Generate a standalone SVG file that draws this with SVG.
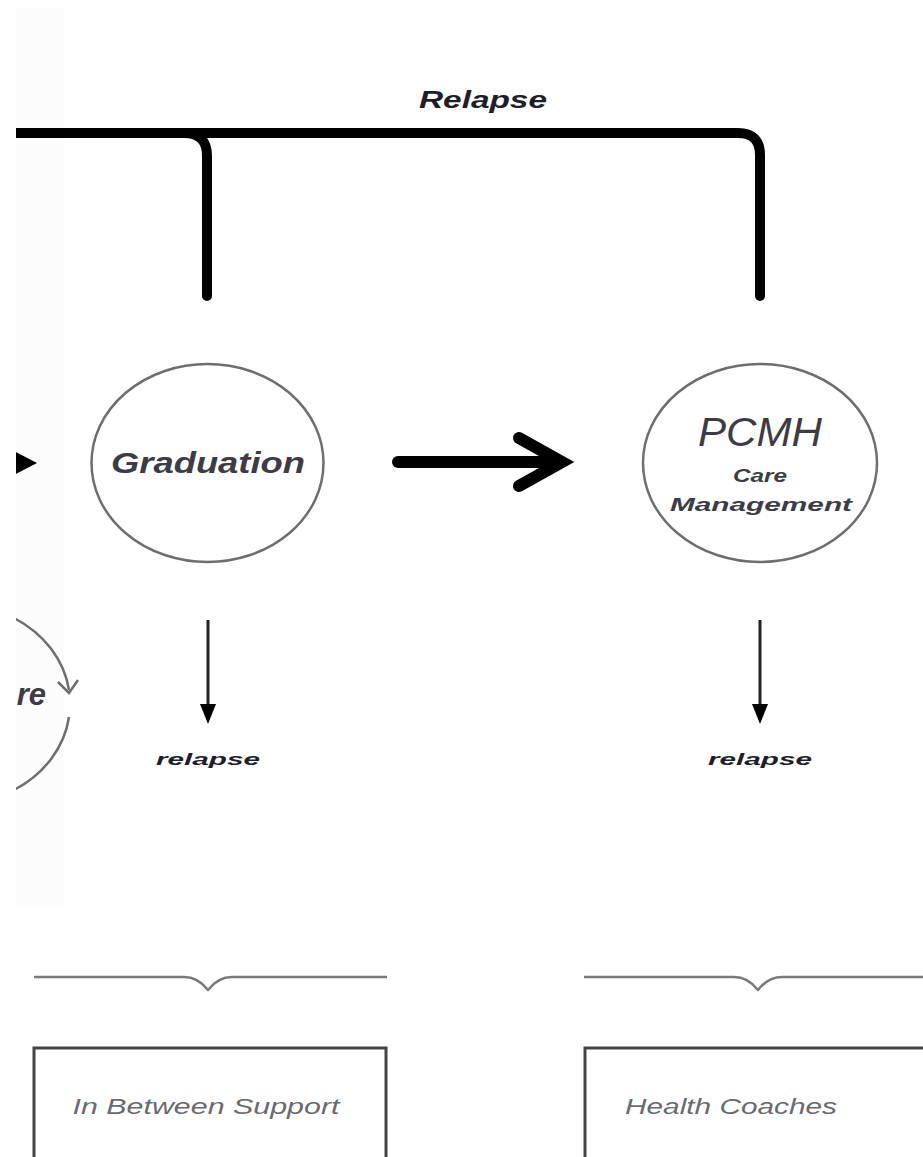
<svg xmlns="http://www.w3.org/2000/svg" width="923" height="1157" viewBox="0 0 923 1157">
  <defs>
    <style>
      .state { fill: #ffffff; stroke: #6e6e6e; stroke-width: 2.5; }
      .state-label { font-family: "Liberation Sans", Arial, sans-serif; font-style: italic; font-weight: bold; fill: #3c3c46; }
      .small-label { font-family: "Liberation Sans", Arial, sans-serif; font-style: italic; font-weight: bold; fill: #1e1e28; font-size: 16px; }
      .role-box { fill: #ffffff; stroke: #444444; stroke-width: 3; }
      .role-label { font-family: "Liberation Sans", Arial, sans-serif; font-style: italic; fill: #6a6a72; font-size: 22px; }
      .brace { fill: none; stroke: #7a7a7a; stroke-width: 2.5; stroke-linejoin: round; }
      .relapse-line { fill: none; stroke: #000000; stroke-width: 10; stroke-linecap: round; }
      .thin-arrow { stroke: #222222; stroke-width: 3; }
    </style>
  </defs>

  <rect x="0" y="0" width="923" height="1157" fill="#ffffff"/>
  <rect x="16" y="8" width="48" height="897" fill="#fcfcfc"/>

  <g id="connectors">
    <!-- long relapse loop across the top -->
    <path class="relapse-line" d="M 0 133 H 738 Q 760 133 760 155 V 296"/>
    <path class="relapse-line" d="M 184 133 Q 207 133 207 156 V 296"/>
    <!-- arrow into Graduation -->
    <polygon points="10,449 37,463 10,477" fill="#000000"/>
    <!-- Graduation to PCMH -->
    <line x1="398" y1="462" x2="556" y2="462" stroke="#000000" stroke-width="12" stroke-linecap="round"/>
    <polyline points="519,438 562,462 519,486" fill="none" stroke="#000000" stroke-width="12" stroke-linecap="round" stroke-linejoin="miter"/>
    <!-- relapse drop arrows -->
    <line class="thin-arrow" x1="208" y1="620" x2="208" y2="708"/>
    <polygon points="200,704 208,724 216,704" fill="#000000"/>
    <line class="thin-arrow" x1="760" y1="620" x2="760" y2="708"/>
    <polygon points="752,704 760,724 768,704" fill="#000000"/>
    <!-- loop arc on the left state -->
    <path d="M 14 618 A 115 100 0 0 1 69 690" fill="none" stroke="#6e6e6e" stroke-width="2.5"/>
    <polyline points="58,682 69,693 78,680" fill="none" stroke="#6e6e6e" stroke-width="2.5"/>
    <path d="M 69 717 A 115 100 0 0 1 14 790" fill="none" stroke="#6e6e6e" stroke-width="2.5"/>
  </g>

  <text class="state-label" x="483" y="108" text-anchor="middle" font-size="24" style="fill:#1e1e28" textLength="128" lengthAdjust="spacingAndGlyphs">Relapse</text>

  <g id="loop-state">
    <text class="state-label" x="46" y="705" text-anchor="end" font-size="31">re</text>
  </g>

  <g id="graduation">
    <ellipse class="state" cx="207.5" cy="463" rx="116" ry="99"/>
    <text class="state-label" x="208" y="473" text-anchor="middle" font-size="29" textLength="194" lengthAdjust="spacingAndGlyphs">Graduation</text>
  </g>

  <g id="pcmh">
    <ellipse class="state" cx="760" cy="463" rx="117" ry="99"/>
    <text x="760" y="446" text-anchor="middle" font-family="Liberation Sans, Arial, sans-serif" font-style="italic" font-size="40" fill="#3c3c46" textLength="124" lengthAdjust="spacingAndGlyphs">PCMH</text>
    <text class="state-label" x="760" y="482" text-anchor="middle" font-size="18" textLength="54" lengthAdjust="spacingAndGlyphs">Care</text>
    <text class="state-label" x="761" y="511" text-anchor="middle" font-size="18" textLength="182" lengthAdjust="spacingAndGlyphs">Management</text>
  </g>

  <g id="graduation-relapse">
    <text class="small-label" x="208" y="765" text-anchor="middle" textLength="104" lengthAdjust="spacingAndGlyphs">relapse</text>
  </g>

  <g id="pcmh-relapse">
    <text class="small-label" x="760" y="765" text-anchor="middle" textLength="104" lengthAdjust="spacingAndGlyphs">relapse</text>
  </g>

  <g id="in-between-support">
    <path class="brace" d="M 34 977 H 184 Q 198 977 208 990 Q 218 977 232 977 H 387"/>
    <rect class="role-box" x="34" y="1048" width="352" height="130"/>
    <text class="role-label" x="206" y="1114" text-anchor="middle" textLength="267" lengthAdjust="spacingAndGlyphs">In Between Support</text>
  </g>

  <g id="health-coaches">
    <path class="brace" d="M 584 977 H 734 Q 748 977 758 990 Q 768 977 782 977 H 930"/>
    <rect class="role-box" x="585" y="1048" width="360" height="130"/>
    <text class="role-label" x="625" y="1114" textLength="212" lengthAdjust="spacingAndGlyphs">Health Coaches</text>
  </g>

  <!-- blank left margin -->
  <rect x="0" y="0" width="16" height="1157" fill="#ffffff"/>
</svg>
